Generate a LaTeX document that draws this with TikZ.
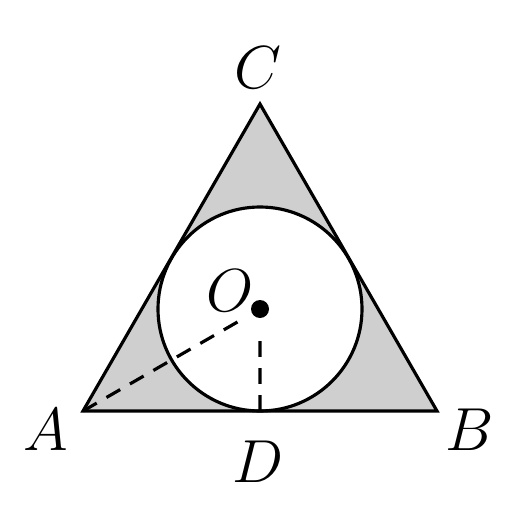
\documentclass[tikz,border=0pt]{standalone}
\usepackage{amsmath}
\usepackage{amssymb}
\usetikzlibrary{calc}

\begin{document}
\begin{tikzpicture}[x=0.01cm,y=-0.01cm,line width=0.9pt,
    ptlabel/.style={font=\fontsize{19}{22}\selectfont}]
  \useasboundingbox (0,0) rectangle (512,512);
  \coordinate (A) at (83,411);
  \coordinate (B) at (437,411);
  \coordinate (C) at (260,104);
  \coordinate (O) at (260,309);
  \coordinate (D) at (260,411);
  \fill[gray!38] (A)--(B)--(C)--cycle;
  \filldraw[fill=white] (O) circle (102);
  \draw (A)--(B)--(C)--cycle;
  \draw[dash pattern=on 4.5pt off 3.2pt] (A)--($(A)!0.88!(O)$);
  \draw[dash pattern=on 4.5pt off 3.2pt] (D)--($(D)!0.74!(O)$);
  \fill (O) circle (9);
  \node[ptlabel] (labC) at (258,68) {$C$};
  \node[ptlabel] (labA) at (46,430) {$A$};
  \node[ptlabel] (labB) at (470,430) {$B$};
  \node[ptlabel] (labD) at (258,462) {$D$};
  \node[ptlabel] (labO) at (230,291) {$O$};
\end{tikzpicture}
\end{document}
